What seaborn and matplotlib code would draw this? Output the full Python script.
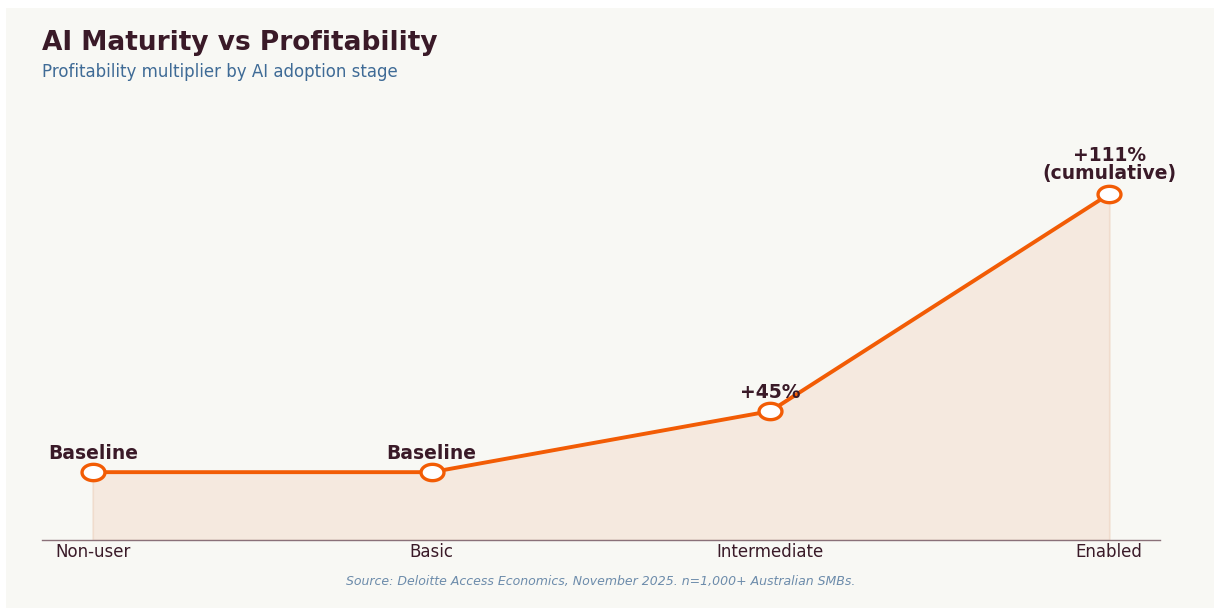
import matplotlib
matplotlib.use("Agg")
import matplotlib.pyplot as plt
from matplotlib.patches import Rectangle
from matplotlib.path import Path
import numpy as np
import seaborn as sns
import pandas as pd

# Profitability multiplier per AI adoption stage (non-user = 1.0)
stages = ["Non-user", "Basic", "Intermediate", "Enabled"]
multiplier = [1.0, 1.0, 1.45, 3.05]
point_labels = ["Baseline", "Baseline", "+45%", "+111%\n(cumulative)"]

TITLE = "AI Maturity vs Profitability"
SUBTITLE = "Profitability multiplier by AI adoption stage"
SOURCE = "Source: Deloitte Access Economics, November 2025. n=1,000+ Australian SMBs."

ORANGE = "#f25c05"
DARK = "#3a1a28"
BG = "#f8f8f4"

sns.set_theme(style="white")
plt.rcParams["font.family"] = ["DejaVu Sans"]

df = pd.DataFrame({"stage": stages, "x": range(len(stages)), "value": multiplier})

# slightly wide oval marker
theta = np.linspace(0, 2 * np.pi, 65)
oval = Path(np.column_stack([1.4 * np.cos(theta), np.sin(theta)]), closed=True)

fig = plt.figure(figsize=(12.14, 6.08), dpi=100, facecolor="white")
fig.patches.append(Rectangle((6 / 1214, 0), 1 - 6 / 1214, 1 - 8 / 608,
                             transform=fig.transFigure, facecolor=BG,
                             edgecolor="none", zorder=-10))

ax = fig.add_axes([42 / 1214, 68 / 608, (1160 - 42) / 1214, (540 - 133) / 608])
ax.set_facecolor("none")

ax.fill_between(df["x"], 0.5, df["value"], color="#f5e9df", edgecolor="#f0dccd",
                linewidth=1.2, zorder=1)
sns.lineplot(data=df, x="x", y="value", ax=ax, color=ORANGE, linewidth=2.8,
             marker=oval, markersize=16.5, markerfacecolor="white",
             markeredgecolor=ORANGE, markeredgewidth=2.4, zorder=3)

for xi, v, lab in zip(df["x"], df["value"], point_labels):
    off = 8 if "\n" in lab else 6.5
    ax.annotate(lab, (xi, v), xytext=(0, off), textcoords="offset points",
                ha="center", va="bottom", fontsize=13.5, fontweight="bold",
                color=DARK, linespacing=0.95, zorder=4)

ax.set_xlim(-0.15, 3.15)
ax.set_ylim(0.5, 3.5)
ax.set_xticks(list(df["x"]))
ax.set_xticklabels(stages, fontsize=12, color=DARK)
ax.tick_params(axis="x", length=0, pad=2)
ax.set_yticks([])
ax.set_xlabel("")
ax.set_ylabel("")
for side in ["left", "right", "top"]:
    ax.spines[side].set_visible(False)
ax.spines["bottom"].set_color("#8a7078")
ax.spines["bottom"].set_linewidth(1.0)

fig.text(42 / 1214, 1 - 43 / 608, TITLE, fontsize=19, fontweight="bold",
         color=DARK, ha="left", va="center")
fig.text(42 / 1214, 1 - 72 / 608, SUBTITLE, fontsize=12, color="#3f6b96",
         ha="left", va="center")
fig.text(601 / 1214, 1 - 581 / 608, SOURCE, fontsize=9, style="italic",
         color="#6d8cab", ha="center", va="center")

fig.savefig("out.png", dpi=100, facecolor=fig.get_facecolor())
